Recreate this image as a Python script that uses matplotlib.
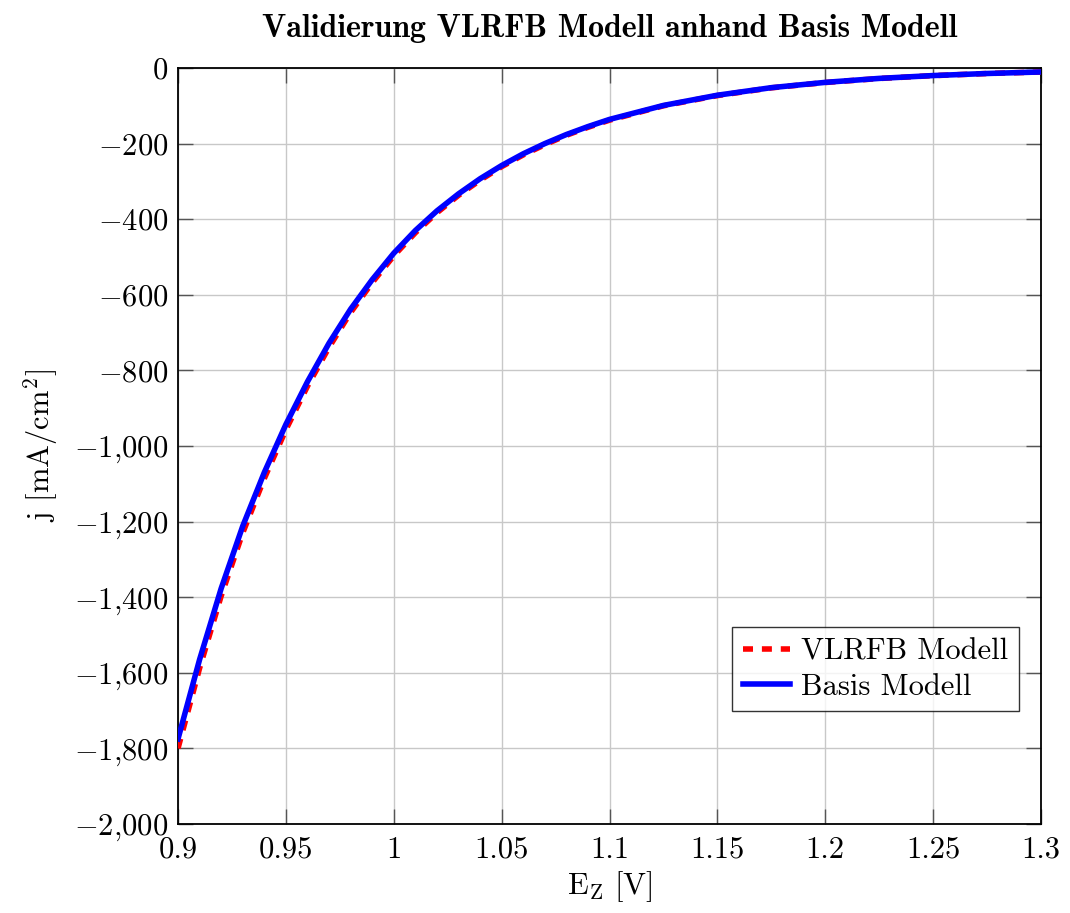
import matplotlib
matplotlib.use("Agg")
import matplotlib.pyplot as plt
from matplotlib.ticker import FuncFormatter

# ---- data ----
E_z = [0.90, 0.91, 0.92, 0.93, 0.94, 0.95, 0.96, 0.97, 0.98, 0.99,
       1.00, 1.01, 1.02, 1.03, 1.04, 1.05, 1.06, 1.07, 1.08, 1.09,
       1.10, 1.125, 1.15, 1.175, 1.20, 1.225, 1.25, 1.275, 1.30]
j_basis = [-1775, -1565, -1377, -1212, -1070, -943, -830, -728, -638, -560,
           -490, -430, -378, -333, -293, -258, -227, -200, -176, -155,
           -136, -99, -72, -52, -38, -27.5, -20, -14.5, -10.5]
j_vlrfb = [-1800, -1588, -1397, -1230, -1086, -957, -842, -739, -647, -568,
           -497, -436, -383, -337, -297, -261, -230, -203, -178, -157,
           -138, -100, -73, -52.5, -38.4, -27.8, -20.2, -14.6, -10.6]
x_ticks = [0.9, 0.95, 1.0, 1.05, 1.1, 1.15, 1.2, 1.25, 1.3]
x_tick_labels = ["0.9", "0.95", "1", "1.05", "1.1", "1.15", "1.2", "1.25", "1.3"]
y_ticks = [-2000, -1800, -1600, -1400, -1200, -1000, -800, -600, -400, -200, 0]

title = "Validierung VLRFB Modell anhand Basis Modell"
label_vlrfb = "VLRFB Modell"
label_basis = "Basis Modell"

plt.rcParams["font.family"] = ["cmr10", "DejaVu Serif"]
plt.rcParams["mathtext.fontset"] = "cm"
plt.rcParams["axes.formatter.use_mathtext"] = True

fig = plt.figure(figsize=(10.7, 9.13), dpi=100)
ax = fig.add_axes([178/1070, 89/913, (1041-178)/1070, (824-68)/913])

ax.plot(E_z, j_vlrfb, color="red", lw=4.0, linestyle=(0, (1.8, 1.6)),
        label=label_vlrfb, zorder=3)
ax.plot(E_z, j_basis, color="blue", lw=4.0, label=label_basis, zorder=4)

ax.set_xlim(0.9, 1.3)
ax.set_ylim(-2000, 0)
ax.set_xticks(x_ticks)
ax.set_xticklabels(x_tick_labels)
ax.set_yticks(y_ticks)

def yfmt(v, pos):
    v = int(round(v))
    if v == 0:
        return r"$0$"
    s = f"{abs(v):,}".replace(",", "{,}")
    return (r"$-" if v < 0 else r"$") + s + r"$"

ax.yaxis.set_major_formatter(FuncFormatter(yfmt))

ax.grid(True, color="#c8c8c8", lw=1.0, zorder=0)
ax.tick_params(direction="in", length=11, width=1.0, color="#555555",
               top=True, right=True, labelsize=22)
ax.tick_params(axis="x", pad=9)
ax.tick_params(axis="y", pad=7)
for s in ax.spines.values():
    s.set_linewidth(1.3)
    s.set_color("black")

ax.set_title(title, fontsize=23, fontfamily="cmb10", pad=22)
ax.set_xlabel(r"E$_{\mathrm{Z}}$ [V]", fontsize=22, labelpad=4)
ax.set_ylabel(r"j [mA/cm$^{2}$]", fontsize=22, labelpad=10)

leg = ax.legend(loc="lower right", bbox_to_anchor=(0.9745, 0.149), fontsize=22,
                frameon=True, fancybox=False, edgecolor="black",
                borderpad=0.35, labelspacing=0.25, handlelength=1.55,
                handletextpad=0.35, borderaxespad=0.0)
leg.get_frame().set_linewidth(1.0)

fig.savefig("out.png", dpi=100)
